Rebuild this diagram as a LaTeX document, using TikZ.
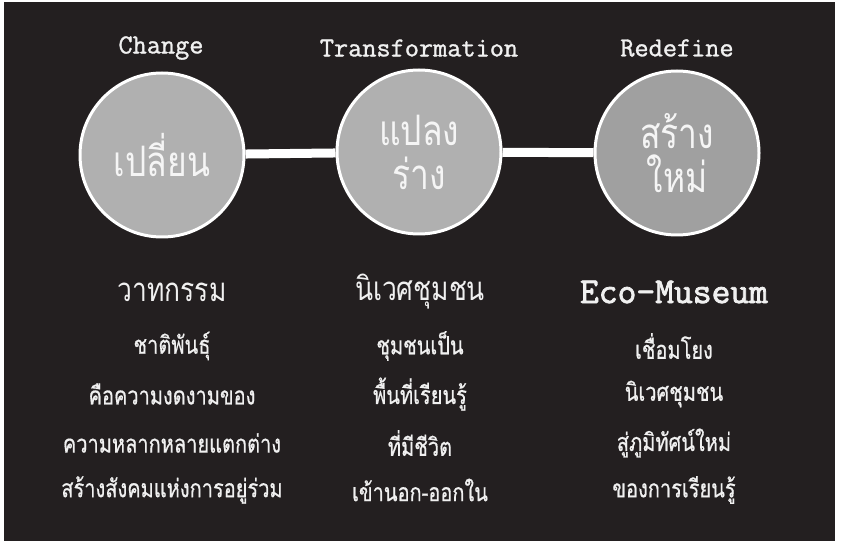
\documentclass[tikz,border=0pt]{standalone}
\usepackage{fontspec}
\newfontfamily\thaifont[Script=Thai,FakeStretch=0.8]{Loma}
\newfontfamily\thaibody[Script=Thai,FakeStretch=0.8,FakeBold=0.6]{Loma}
\newfontfamily\monohdr[FakeBold=1.2]{Latin Modern Mono}
\newfontfamily\monottl[FakeBold=2.2]{Latin Modern Mono}
\definecolor{bgdark}{RGB}{35,31,32}
\definecolor{discgray}{RGB}{176,176,176}
\definecolor{discgraydark}{RGB}{160,160,160}
\definecolor{disctext}{RGB}{245,245,245}
\definecolor{txtwhite}{RGB}{240,240,240}
\tikzset{
  disc/.style={circle, draw=white, line width=3pt, fill=discgray, minimum size=164pt, inner sep=0pt,
     text=disctext, font=\thaifont\fontsize{42}{44}\selectfont, align=center},
  hdr/.style={text=txtwhite, font=\monohdr\fontsize{27.5}{29}\selectfont, inner sep=0pt},
  ttl/.style={text=txtwhite, inner sep=0pt},
  bodyline/.style={text=txtwhite, font=\thaibody\fontsize{25}{28}\selectfont, inner sep=0pt},
  link/.style={draw=white, line width=9pt}
}
\begin{document}
\begin{tikzpicture}[x=1pt,y=-1pt]
\useasboundingbox (0,0) rectangle (843,545);
\fill[white] (0,0) rectangle (843,545);
\fill[bgdark] (4,2) rectangle (835,541);
% headers
\node[hdr] (h1) at (161,48) {Change};
\node[hdr] (h2) at (419,48) {Transformation};
\node[hdr] (h3) at (677,48) {Redefine};
% discs
\node[disc] (c1) at (162,155) {เปลี่ยน};
\node[disc] (c2) at (419,152) {แปลง\\ร่าง};
\node[disc, fill=discgraydark] (c3) at (677,153) {สร้าง\\ใหม่};
\draw[link] (c1) -- (c2);
\draw[link] (c2) -- (c3);
% titles
\node[ttl, font=\thaifont\fontsize{33}{36}\selectfont] (t1) at (172,292) {วาทกรรม};
\node[ttl, font=\thaifont\fontsize{33}{36}\selectfont] (t2) at (420,292) {นิเวศชุมชน};
\node[ttl, font=\monottl\fontsize{36.5}{38}\selectfont] (t3) at (674,292) {Eco-Museum};
% column 1
\node[bodyline] (a1) at (172,346) {ชาติพันธุ์};
\node[bodyline] (a2) at (172,394) {คือความงดงามของ};
\node[bodyline] (a3) at (172,443) {ความหลากหลายแตกต่าง};
\node[bodyline] (a4) at (172,490) {สร้างสังคมแห่งการอยู่ร่วม};
% column 2
\node[bodyline] (b1) at (420,346) {ชุมชนเป็น};
\node[bodyline] (b2) at (420,394) {พื้นที่เรียนรู้};
\node[bodyline] (b3) at (420,443) {ที่มีชีวิต};
\node[bodyline] (b4) at (420,490) {เข้านอก-ออกใน};
% column 3
\node[bodyline] (d1) at (674,346) {เชื่อมโยง};
\node[bodyline] (d2) at (674,394) {นิเวศชุมชน};
\node[bodyline] (d3) at (674,443) {สู่ภูมิทัศน์ใหม่};
\node[bodyline] (d4) at (674,490) {ของการเรียนรู้};
\end{tikzpicture}
\end{document}
